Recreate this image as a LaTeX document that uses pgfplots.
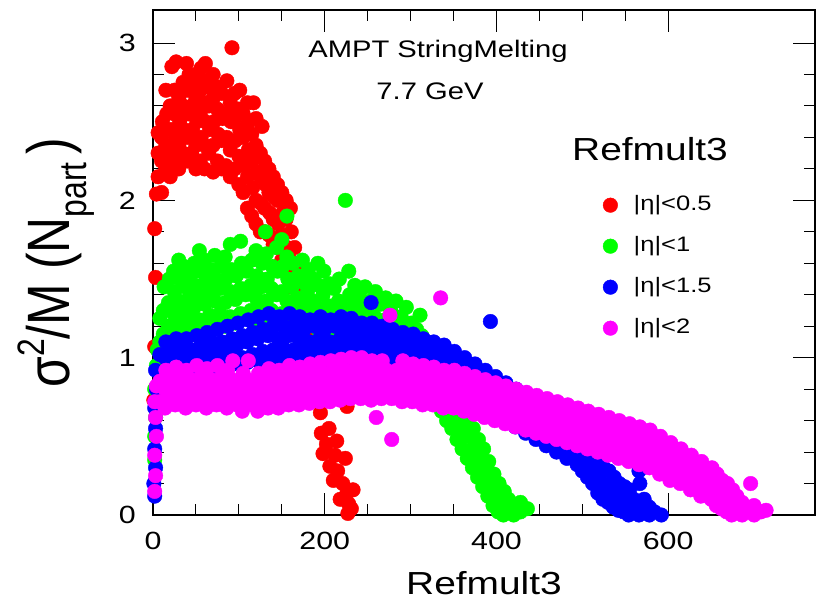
\documentclass[border=0pt]{standalone}
\usepackage{graphicx}
\usepackage{pgfplots}
\pgfplotsset{compat=1.18}
\usepackage{fontspec}
\setmainfont{Liberation Sans}[FakeStretch=1.22]
\newfontfamily\ylabfont{Liberation Sans}
\definecolor{cred}{RGB}{255,0,0}
\definecolor{cgreen}{RGB}{0,255,0}
\definecolor{cblue}{RGB}{0,0,255}
\definecolor{cmag}{RGB}{255,0,255}
\begin{document}
\begin{tikzpicture}
\begin{axis}[
  at={(153bp,85bp)}, anchor=south west,
  scale only axis, width=662bp, height=505bp,
  xmin=0, xmax=771, ymin=0, ymax=3.21,
  clip=false,
  xtick={0,200,400,600}, minor x tick num=3,
  ytick={0,1,2,3}, minor y tick num=4,
  major tick length=22bp, minor tick length=11bp,
  tick style={line width=1bp, black},
  axis line style={line width=2.5bp},
  /pgf/number format/assume math mode=true,
  every tick label/.append style={font=\fontsize{25}{25}\selectfont},
  yticklabel style={inner sep=0pt, xshift=-17bp},
  xticklabel style={inner sep=0pt, yshift=-17bp},
  xlabel={Refmult3},
  xlabel style={at={(axis description cs:0.5,0)}, anchor=base, yshift=-79bp, inner sep=0pt, text depth=0pt, font=\fontsize{32}{32}\selectfont},
  ylabel={\scalebox{1}[1.2]{\ylabfont\fontsize{50}{50}\selectfont σ\raisebox{0.42em}{\fontsize{32}{32}\selectfont 2}/M (N\raisebox{-0.28em}{\fontsize{32}{32}\selectfont part}\,)}},
  ylabel style={at={(axis description cs:-0.1254,0.5)}, anchor=base},
  legend style={at={(axis description cs:0.6751,0.6431)}, anchor=north west, draw=none, fill=none,
    font=\fontsize{21}{21}\selectfont, row sep=15.5bp,
    nodes={inner sep=3bp, text height=15bp, text depth=4.5bp},
    /tikz/every odd column/.append style={column sep=13bp}},
  legend cell align=left,
  every axis plot/.append style={only marks, mark=*, mark size=7.3bp},
]
\addplot[color=cred, mark options={draw=none, fill=cred}] coordinates {
(1,0.73) (2,1.07) (3,1.51) (2,1.82) (4,2.04)
(6,2.15) (6,2.3) (6,2.43)
(10,2.05) (10,2.25) (10,2.4) (11,2.5)
(15,2.2) (15,2.35) (16,2.55) (15,2.7)
(20,2.15) (20,2.3) (21,2.45) (20,2.6) (22,2.85)
(25,2.25) (26,2.4) (25,2.55) (25,2.7) (27,2.88)
(30,2.2) (30,2.35) (31,2.5) (30,2.65)
(35,2.3) (36,2.45) (35,2.6) (35,2.75) (39,2.87)
(40,2.25) (40,2.4) (41,2.55) (40,2.7) (42,2.8)
(45,2.3) (46,2.45) (45,2.6) (45,2.75)
(50,2.2) (50,2.35) (51,2.5) (50,2.65) (50,2.8)
(55,2.25) (56,2.4) (55,2.55) (55,2.7) (56,2.84)
(60,2.2) (60,2.35) (61,2.5) (60,2.62) (60,2.76) (61,2.87)
(65,2.3) (66,2.45) (65,2.6) (65,2.72)
(70,2.18) (70,2.35) (71,2.5) (70,2.65) (70,2.8)
(75,2.25) (76,2.42) (75,2.58) (75,2.72)
(80,2.2) (80,2.38) (81,2.52) (80,2.68)
(85,2.22) (86,2.4) (85,2.55) (86,2.76)
(90,2.15) (90,2.32) (91,2.5) (90,2.62) (92,2.97)
(95,2.2) (96,2.38) (95,2.52) (95,2.68)
(100,2.1) (100,2.28) (101,2.45) (100,2.58) (101,2.7)
(105,2.05) (106,2.22) (105,2.4) (105,2.55)
(110,1.95) (110,2.15) (111,2.32) (110,2.48) (110,2.62)
(115,1.9) (116,2.08) (115,2.25) (115,2.42) (117,2.62)
(120,1.85) (120,2.0) (121,2.18) (120,2.35) (120,2.52)
(125,1.8) (126,1.98) (125,2.15) (125,2.3) (127,2.47)
(130,1.8) (130,1.95) (131,2.1) (130,2.25)
(135,1.78) (136,1.92) (135,2.05) (135,2.2)
(140,1.72) (140,1.88) (141,2.02) (140,2.15)
(145,1.7) (146,1.85) (145,2.0) (145,2.1)
(150,1.62) (150,1.78) (151,1.92) (150,2.05)
(155,1.55) (156,1.7) (155,1.88) (155,2.0)
(160,1.45) (160,1.62) (161,1.8) (160,1.95)
(165,1.35) (166,1.52) (165,1.7)
(170,1.25) (170,1.42) (171,1.6)
(175,1.1) (176,1.28) (175,1.45)
(180,1.0) (180,1.15) (181,1.3)
(185,0.88) (186,1.02)
(190,0.75) (190,0.9)
(195,0.65) (226,0.69) (205,0.55)
(196,0.52) (214,0.47) (198,0.39) (224,0.36) (206,0.31) (210,0.22) (233,0.16)
(218,0.1) (227,0.01) (226,0.14) (202,0.45) (215,0.28) (221,0.2) (228,0.07)
(212,0.38) (231,0.04)
};
\addlegendentry{|η|<0.5}
\addplot[color=cgreen, mark options={draw=none, fill=cgreen}] coordinates {
(2,0.35) (2,0.5) (3,0.62) (2,0.8) (4,0.95) (5,1.05)
(8,1.1) (8,1.25)
(12,1.15) (12,1.3) (13,1.45)
(18,1.2) (18,1.35) (19,1.5)
(24,1.15) (24,1.28) (25,1.42) (24,1.55)
(30,1.22) (30,1.36) (31,1.5) (30,1.62)
(36,1.18) (36,1.3) (37,1.45) (36,1.58)
(42,1.25) (42,1.38) (43,1.52)
(48,1.2) (48,1.32) (49,1.46) (48,1.6)
(54,1.24) (54,1.4) (55,1.55) (54,1.68)
(60,1.2) (60,1.34) (61,1.48) (60,1.62)
(66,1.27) (66,1.42) (67,1.56)
(72,1.22) (72,1.36) (73,1.5) (72,1.65)
(78,1.28) (78,1.44) (79,1.58)
(84,1.2) (84,1.35) (85,1.5) (84,1.64)
(90,1.26) (90,1.42) (91,1.56) (90,1.72)
(96,1.22) (96,1.37) (97,1.52)
(102,1.28) (102,1.44) (103,1.6) (102,1.74)
(108,1.25) (108,1.4) (109,1.55)
(114,1.3) (114,1.46) (115,1.62)
(120,1.24) (120,1.38) (121,1.52) (120,1.68)
(126,1.3) (126,1.45) (127,1.6)
(132,1.22) (132,1.36) (133,1.5) (132,1.66) (131,1.8)
(138,1.3) (138,1.44) (139,1.58)
(144,1.25) (144,1.4) (145,1.55) (144,1.7)
(150,1.28) (150,1.42) (151,1.58) (150,1.75)
(156,1.22) (156,1.36) (157,1.5) (156,1.64) (156,1.9)
(162,1.3) (162,1.45) (163,1.6)
(168,1.24) (168,1.38) (169,1.52)
(174,1.2) (174,1.34) (175,1.48) (174,1.62)
(180,1.28) (180,1.42) (181,1.56)
(186,1.22) (186,1.36) (187,1.5)
(192,1.18) (192,1.32) (193,1.46) (192,1.6)
(198,1.25) (198,1.4) (199,1.55)
(204,1.2) (204,1.33) (205,1.47)
(210,1.16) (210,1.3) (211,1.44)
(216,1.22) (216,1.36) (217,1.5)
(224,2.0) (222,1.18) (222,1.32)
(228,1.12) (228,1.26) (229,1.4) (228,1.55)
(234,1.18) (234,1.32) (235,1.46)
(240,1.1) (240,1.24) (241,1.38)
(246,1.15) (246,1.3) (247,1.45)
(252,1.08) (252,1.22) (253,1.36)
(258,1.12) (258,1.26) (259,1.42)
(264,1.05) (264,1.2) (265,1.34)
(270,1.1) (270,1.24) (271,1.38)
(276,1.02) (276,1.16) (277,1.3)
(282,1.08) (282,1.22) (283,1.36)
(288,0.98) (288,1.12) (289,1.26)
(294,1.04) (294,1.18) (295,1.32)
(300,0.95) (300,1.08) (301,1.22)
(306,0.9) (306,1.04) (307,1.18)
(312,0.85) (312,1.0) (313,1.14) (311,1.27)
(318,0.82) (318,0.95) (319,1.1)
(324,0.76) (324,0.9) (325,1.05)
(330,0.72) (330,0.86) (331,1.0)
(336,0.66) (336,0.8) (337,0.94)
(342,0.6) (342,0.74) (343,0.88)
(348,0.55) (348,0.68) (349,0.82)
(354,0.48) (354,0.62) (355,0.75)
(360,0.42) (360,0.55) (361,0.68)
(366,0.36) (366,0.5) (367,0.62)
(372,0.3) (372,0.42) (373,0.55)
(378,0.24) (378,0.36) (379,0.48)
(384,0.18) (384,0.3) (385,0.42)
(390,0.12) (390,0.22) (391,0.34)
(396,0.06) (396,0.16) (397,0.26)
(402,0.02) (402,0.1) (403,0.2)
(408,0.0) (408,0.08) (409,0.15)
(414,0.02) (414,0.1)
(420,0.0) (420,0.06)
(428,0.02) (428,0.08)
(436,0.04)
};
\addlegendentry{|η|<1}
\addplot[color=cblue, mark options={draw=none, fill=cblue}] coordinates {
(2,0.12) (1,0.2) (3,0.3) (2,0.42) (3,0.55) (2,0.68) (4,0.8) (3,0.92)
(8,0.9) (8,1.02)
(14,0.88) (14,1.0) (15,1.1)
(20,0.92) (20,1.04)
(26,0.9) (26,1.02) (27,1.12)
(32,0.95) (32,1.06)
(38,0.9) (38,1.0) (39,1.12)
(44,0.94) (44,1.05)
(50,0.92) (50,1.02) (51,1.14)
(56,0.96) (56,1.08)
(62,0.93) (62,1.04) (63,1.16)
(68,0.98) (68,1.1)
(74,0.94) (74,1.05) (75,1.18)
(80,0.98) (80,1.1)
(86,0.95) (86,1.06) (87,1.2)
(92,1.0) (92,1.12)
(98,0.96) (98,1.08) (99,1.22)
(104,1.0) (104,1.14)
(110,0.97) (110,1.1) (111,1.24)
(116,1.02) (116,1.16)
(122,0.98) (122,1.12) (123,1.26)
(128,1.04) (128,1.18)
(134,1.0) (134,1.14) (135,1.28)
(140,1.05) (140,1.2)
(146,1.0) (146,1.12) (147,1.26)
(152,1.06) (152,1.2)
(158,1.0) (158,1.14) (159,1.28)
(164,1.05) (164,1.2)
(170,0.98) (170,1.12) (171,1.26)
(176,1.04) (176,1.18)
(182,0.98) (182,1.1) (183,1.24)
(188,1.05) (188,1.2)
(194,0.98) (194,1.12) (195,1.26)
(200,1.04) (200,1.18)
(206,0.98) (206,1.1) (207,1.24)
(212,1.05) (212,1.2)
(218,0.98) (218,1.12) (219,1.26)
(224,1.05) (224,1.18)
(230,1.0) (230,1.12) (231,1.25)
(236,1.04) (236,1.18)
(242,0.98) (242,1.1) (243,1.22)
(248,1.04) (248,1.16)
(254,0.97) (254,1.09) (255,1.22) (254,1.35)
(260,1.02) (260,1.14)
(266,0.95) (266,1.08) (267,1.2)
(272,1.0) (272,1.13)
(278,0.94) (278,1.06) (279,1.18)
(284,0.98) (284,1.12)
(290,0.92) (290,1.04) (291,1.16)
(296,0.96) (296,1.1)
(302,0.9) (302,1.02) (303,1.15)
(308,0.94) (308,1.08)
(314,0.88) (314,1.0) (315,1.12)
(320,0.92) (320,1.05)
(326,0.86) (326,0.98) (327,1.1)
(332,0.9) (332,1.02)
(338,0.84) (338,0.96) (339,1.08)
(344,0.88) (344,1.0)
(350,0.8) (350,0.92) (351,1.04)
(356,0.84) (356,0.96)
(362,0.76) (362,0.88) (363,1.0)
(368,0.8) (368,0.92)
(374,0.72) (374,0.84) (375,0.96)
(380,0.76) (380,0.88)
(386,0.68) (386,0.8) (387,0.92)
(392,0.72) (392,0.84) (393,1.23)
(398,0.64) (398,0.76) (399,0.88)
(404,0.68) (404,0.8)
(410,0.6) (410,0.72) (411,0.84)
(416,0.64) (416,0.76)
(422,0.56) (422,0.68) (423,0.8)
(428,0.6) (428,0.72)
(434,0.52) (434,0.64) (435,0.76)
(440,0.56) (440,0.68)
(446,0.48) (446,0.6) (447,0.72)
(452,0.52) (452,0.64)
(458,0.44) (458,0.56) (459,0.68)
(464,0.48) (464,0.6)
(470,0.4) (470,0.52) (471,0.62)
(476,0.44) (476,0.56)
(482,0.36) (482,0.48) (483,0.58)
(488,0.4) (488,0.5)
(494,0.32) (494,0.44) (495,0.54)
(500,0.28) (500,0.38) (501,0.48)
(506,0.24) (506,0.34) (507,0.44)
(512,0.2) (512,0.3) (513,0.4)
(518,0.14) (518,0.24) (519,0.34)
(524,0.1) (524,0.2) (525,0.3)
(530,0.08) (530,0.18) (531,0.28)
(536,0.05) (536,0.14) (537,0.24)
(542,0.03) (542,0.12) (543,0.2)
(548,0.02) (548,0.1) (549,0.18)
(554,0.0) (554,0.08) (555,0.16)
(560,0.02) (560,0.1) (566,0.28)
(566,0.0) (566,0.06) (567,0.2)
(572,0.02) (572,0.1)
(578,0.0) (578,0.05)
(584,0.02)
(592,0.0)
};
\addlegendentry{|η|<1.5}
\addplot[color=cmag, mark options={draw=none, fill=cmag}] coordinates {
(2,0.15) (3,0.25) (2,0.38) (4,0.5) (3,0.62) (2,0.72) (4,0.82)
(8,0.72) (8,0.85)
(14,0.68) (14,0.8) (15,0.92)
(20,0.74) (20,0.86)
(26,0.7) (26,0.82) (27,0.94)
(32,0.75) (32,0.88)
(38,0.68) (38,0.8) (39,0.92)
(44,0.74) (44,0.86)
(50,0.7) (50,0.82) (51,0.95)
(56,0.76) (56,0.88)
(62,0.68) (62,0.8) (63,0.93)
(68,0.74) (68,0.86)
(74,0.7) (74,0.82) (75,0.95)
(80,0.76) (80,0.88)
(86,0.68) (86,0.8) (87,0.92)
(92,0.74) (92,0.86) (93,0.98)
(98,0.7) (98,0.82)
(104,0.66) (104,0.78) (105,0.9)
(110,0.74) (110,0.86) (111,0.98)
(116,0.7) (116,0.82)
(122,0.66) (122,0.78) (123,0.9)
(128,0.74) (128,0.86)
(134,0.68) (134,0.8) (135,0.93)
(140,0.74) (140,0.87)
(146,0.68) (146,0.8) (147,0.92)
(152,0.75) (152,0.88)
(158,0.7) (158,0.82) (159,0.95)
(164,0.76) (164,0.88)
(170,0.7) (170,0.82) (171,0.94)
(176,0.77) (176,0.9)
(182,0.71) (182,0.83) (183,0.96)
(188,0.78) (188,0.9)
(194,0.72) (194,0.84) (195,0.97)
(200,0.78) (200,0.9)
(206,0.72) (206,0.85) (207,0.98)
(212,0.79) (212,0.92)
(218,0.73) (218,0.86) (219,0.99)
(224,0.8) (224,0.92)
(230,0.74) (230,0.86) (231,1.0)
(236,0.8) (236,0.93)
(242,0.74) (242,0.87) (243,1.0)
(248,0.8) (248,0.92)
(254,0.73) (254,0.86) (255,0.98)
(260,0.62) (260,0.8) (261,0.92)
(266,0.74) (266,0.86) (267,0.98)
(272,0.8) (272,0.92) (276,1.27)
(278,0.48) (278,0.74) (279,0.86)
(284,0.8) (284,0.92)
(290,0.72) (290,0.85) (291,0.98)
(296,0.78) (296,0.9)
(302,0.72) (302,0.84) (303,0.96)
(308,0.78) (308,0.9)
(314,0.7) (314,0.82) (315,0.95)
(320,0.76) (320,0.88)
(326,0.7) (326,0.82) (327,0.94)
(332,0.76) (332,0.88) (335,1.38)
(338,0.68) (338,0.8) (339,0.92)
(344,0.74) (344,0.86)
(350,0.68) (350,0.8) (351,0.92)
(356,0.74) (356,0.86)
(362,0.66) (362,0.78) (363,0.9)
(368,0.72) (368,0.84)
(374,0.64) (374,0.76) (375,0.88)
(380,0.7) (380,0.82)
(386,0.62) (386,0.74) (387,0.86)
(392,0.68) (392,0.8)
(398,0.6) (398,0.72) (399,0.84)
(404,0.66) (404,0.78)
(410,0.58) (410,0.7) (411,0.82)
(416,0.64) (416,0.76)
(422,0.56) (422,0.68) (423,0.8)
(428,0.62) (428,0.74)
(434,0.54) (434,0.66) (435,0.78)
(440,0.6) (440,0.72)
(446,0.52) (446,0.64) (447,0.76)
(452,0.58) (452,0.7)
(458,0.5) (458,0.62) (459,0.74)
(464,0.56) (464,0.68)
(470,0.48) (470,0.6) (471,0.72)
(476,0.54) (476,0.66)
(482,0.46) (482,0.58) (483,0.7)
(488,0.52) (488,0.64)
(494,0.44) (494,0.56) (495,0.68)
(500,0.5) (500,0.62)
(506,0.42) (506,0.54) (507,0.66)
(512,0.48) (512,0.6)
(518,0.4) (518,0.52) (519,0.64)
(524,0.46) (524,0.58)
(530,0.38) (530,0.5) (531,0.62)
(536,0.44) (536,0.56)
(542,0.36) (542,0.48) (543,0.6)
(548,0.42) (548,0.54)
(554,0.34) (554,0.46) (555,0.58)
(560,0.4) (560,0.52)
(566,0.32) (566,0.44) (567,0.56)
(572,0.38) (572,0.5)
(578,0.3) (578,0.42) (579,0.54)
(584,0.34) (584,0.46)
(590,0.26) (590,0.38) (591,0.5)
(596,0.3) (596,0.42)
(602,0.22) (602,0.34) (603,0.46)
(608,0.26) (608,0.38)
(614,0.2) (614,0.3) (615,0.42)
(620,0.22) (620,0.34)
(626,0.16) (626,0.26) (627,0.38)
(632,0.18) (632,0.3)
(638,0.12) (638,0.22) (639,0.34)
(644,0.14) (644,0.26)
(650,0.1) (650,0.2) (651,0.3)
(656,0.06) (656,0.16) (657,0.26)
(662,0.04) (662,0.14) (663,0.22)
(668,0.02) (668,0.1) (669,0.2)
(674,0.0) (674,0.08) (675,0.16)
(680,0.02) (680,0.12)
(686,0.0) (686,0.08)
(692,0.02) (696,0.2)
(700,0.0) (700,0.06)
(708,0.02)
(714,0.03)
};
\addlegendentry{|η|<2}
\node[anchor=base, font=\fontsize{24}{24}\selectfont] at (axis description cs:0.4305,0.905) {AMPT StringMelting};
\node[anchor=base, font=\fontsize{24}{24}\selectfont] at (axis description cs:0.4184,0.8218) {7.7 GeV};
\node[anchor=base, font=\fontsize{32}{32}\selectfont] at (axis description cs:0.7508,0.7016) {Refmult3};
\end{axis}
\pgfresetboundingbox
\path[use as bounding box] (0,0) rectangle (823bp,600bp);
\end{tikzpicture}
\end{document}
